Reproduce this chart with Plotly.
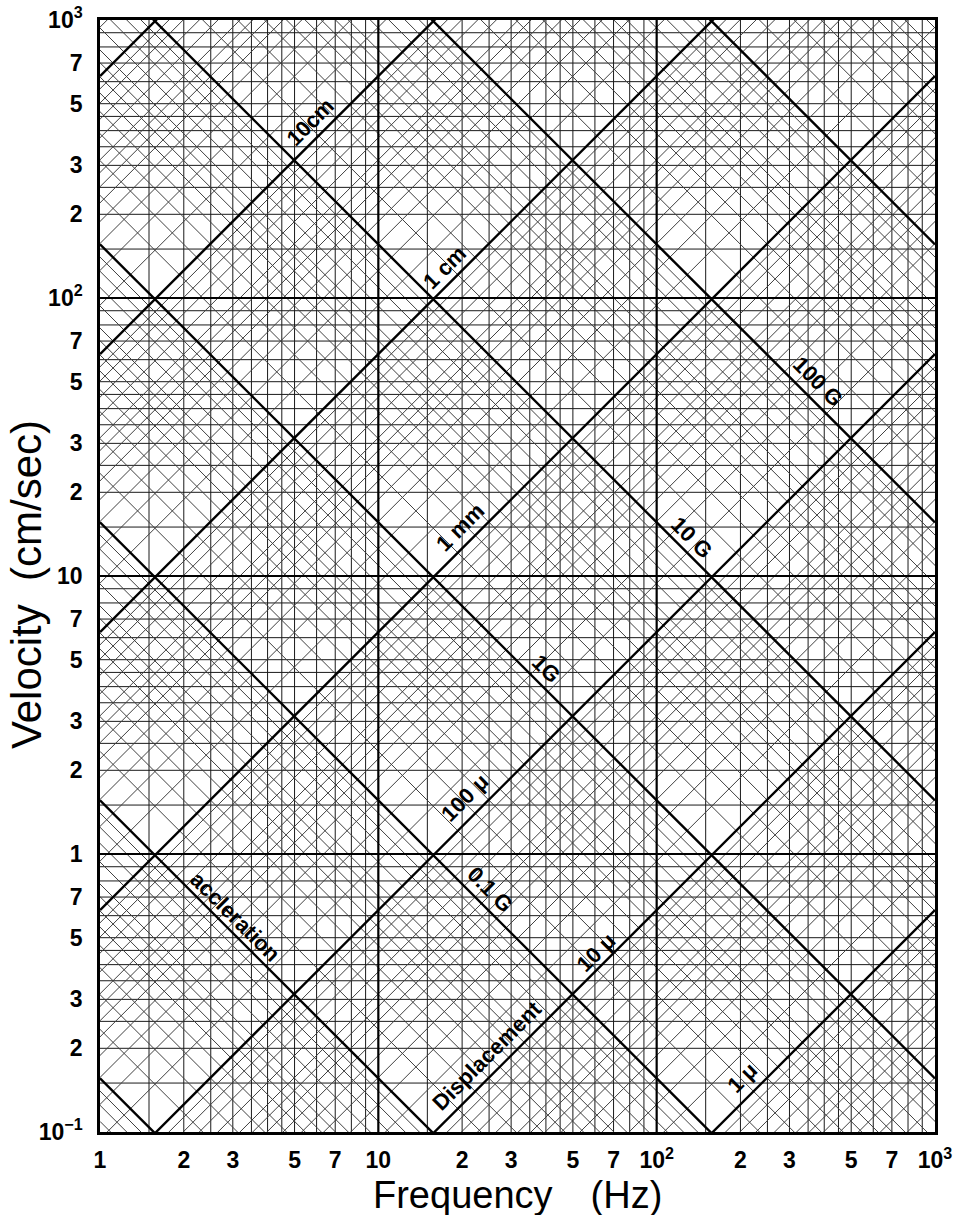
import numpy as np
import plotly.graph_objects as go

# Tripartite vibration nomograph: velocity vs frequency, with
# constant-displacement (slope +1) and constant-acceleration (slope -1) lines.

G_CMS2 = 980.0  # 1 G in cm/s^2

# grid mantissas used inside every decade
GRID_MANT = [1.5, 2, 2.5, 3, 3.5, 4, 4.5, 5, 6, 7, 8, 9]

FREQ_DECADES = [1, 10, 100]          # Hz
VEL_DECADES = [0.1, 1, 10, 100]      # cm/sec
DISP_DECADES = [1e-5, 1e-4, 1e-3, 1e-2, 1e-1, 1, 10, 100, 1000]   # cm
ACC_DECADES = [1e-4, 1e-3, 1e-2, 1e-1, 1, 10, 100, 1000, 1e4]     # G

X_TICKVALS = [1, 2, 3, 5, 7, 10, 20, 30, 50, 70, 100, 200, 300, 500, 700, 1000]
X_TICKTEXT = ["1", "2", "3", "5", "7", "10", "2", "3", "5", "7", "10<sup>2</sup>",
              "2", "3", "5", "7", "10<sup>3</sup>"]
Y_TICKVALS = [0.1, 0.2, 0.3, 0.5, 0.7, 1, 2, 3, 5, 7, 10, 20, 30, 50, 70,
              100, 200, 300, 500, 700, 1000]
Y_TICKTEXT = ["10<sup>−1</sup>", "2", "3", "5", "7", "1", "2", "3", "5", "7", "10",
              "2", "3", "5", "7", "10<sup>2</sup>", "2", "3", "5", "7", "10<sup>3</sup>"]

X_TITLE = "Frequency\u3000(Hz)"
Y_TITLE = "Velocity\u00a0\u00a0(cm/sec)"

# labels written along the thick diagonals
DISP_LABELS = ["10cm", "1 cm", "1 mm", "100 μ", "10 μ", "1 μ", "Displacement"]
DISP_LABEL_CM = [10, 1, 0.1, 0.01, 0.001, 0.0001, 0.001]
DISP_LABEL_HZ = [6.22, 18.8, 21.6, 22.8, 65.3, 225.7, 27.15]
DISP_LABEL_OFF = [16, 14, 16, 18, 13, 18, 17]

ACC_LABELS = ["accleration", "0.1 G", "1G", "10 G", "100 G"]
ACC_LABEL_G = [0.01, 0.1, 1, 10, 100]
ACC_LABEL_HZ = [2.83, 23.0, 36.6, 123, 344]
ACC_LABEL_OFF = [13, 15.5, 15.5, 14, 16.7]

F_MIN, F_MAX = 1, 1000
V_MIN, V_MAX = 0.1, 1000


def disp_velocity(f, d_cm):
    return 2 * np.pi * f * d_cm


def acc_velocity(f, a_g):
    return a_g * G_CMS2 / (2 * np.pi * f)


def seg_trace(xs, ys, color, width):
    return go.Scatter(x=xs, y=ys, mode="lines", hoverinfo="skip",
                      line=dict(color=color, width=width), showlegend=False)


fig = go.Figure()

# thin rectangular grid
vx, vy, hx, hy = [], [], [], []
for dec in FREQ_DECADES:
    for m in GRID_MANT:
        vx += [m * dec, m * dec, None]
        vy += [V_MIN, V_MAX, None]
for dec in VEL_DECADES:
    for m in GRID_MANT:
        hx += [F_MIN, F_MAX, None]
        hy += [m * dec, m * dec, None]
fig.add_trace(seg_trace(vx + hx, vy + hy, "#1a1a1a", 1))

# thin diagonals
dx, dy = [], []
f_ends = np.array([F_MIN, F_MAX], dtype=float)
for dec in DISP_DECADES:
    for m in GRID_MANT:
        dx += list(f_ends) + [None]
        dy += list(disp_velocity(f_ends, m * dec)) + [None]
for dec in ACC_DECADES:
    for m in GRID_MANT:
        dx += list(f_ends) + [None]
        dy += list(acc_velocity(f_ends, m * dec)) + [None]
fig.add_trace(seg_trace(dx, dy, "#404040", 1))

# thick decade grid lines
tx, ty = [], []
for dec in FREQ_DECADES[1:]:
    tx += [dec, dec, None]
    ty += [V_MIN, V_MAX, None]
for dec in VEL_DECADES[1:]:
    tx += [F_MIN, F_MAX, None]
    ty += [dec, dec, None]
fig.add_trace(seg_trace(tx, ty, "black", 2.2))

# thick decade diagonals
kx, ky = [], []
for d in DISP_DECADES:
    kx += list(f_ends) + [None]
    ky += list(disp_velocity(f_ends, d)) + [None]
for a in ACC_DECADES:
    kx += list(f_ends) + [None]
    ky += list(acc_velocity(f_ends, a)) + [None]
fig.add_trace(seg_trace(kx, ky, "black", 2.4))

FONT = "Liberation Sans, Arial, sans-serif"
label_font = dict(family=FONT, size=22, color="black", weight="bold")
s = np.sqrt(0.5)
for txt, d, f, p in zip(DISP_LABELS, DISP_LABEL_CM, DISP_LABEL_HZ, DISP_LABEL_OFF):
    fig.add_annotation(x=np.log10(f), y=np.log10(disp_velocity(f, d)), text=txt,
                       showarrow=False, textangle=-45, font=label_font,
                       xshift=-p * s, yshift=p * s)
for txt, a, f, p in zip(ACC_LABELS, ACC_LABEL_G, ACC_LABEL_HZ, ACC_LABEL_OFF):
    fig.add_annotation(x=np.log10(f), y=np.log10(acc_velocity(f, a)), text=txt,
                       showarrow=False, textangle=45, font=label_font,
                       xshift=p * s, yshift=p * s)

# axis titles
fig.add_annotation(xref="paper", yref="paper", x=0.5, y=0, yshift=-63,
                   xanchor="center", yanchor="middle", showarrow=False,
                   text=X_TITLE, font=dict(family=FONT, size=38, color="black"))
fig.add_annotation(xref="paper", yref="paper", x=0, y=0.5, xshift=-74, yshift=-9,
                   xanchor="center", yanchor="middle", showarrow=False, textangle=-90,
                   text=Y_TITLE, font=dict(family=FONT, size=42, color="black"))

tick_font = dict(family=FONT, size=23, color="black", weight="bold")

fig.update_xaxes(type="log", range=[0, 3], showgrid=False, zeroline=False,
                 showline=True, mirror=True, linecolor="black", linewidth=2.5,
                 ticks="", tickmode="array", tickvals=X_TICKVALS, ticktext=X_TICKTEXT,
                 tickfont=tick_font, ticklabelstandoff=6, automargin=False)
fig.update_yaxes(type="log", range=[-1, 3], showgrid=False, zeroline=False,
                 showline=True, mirror=True, linecolor="black", linewidth=2.5,
                 ticks="", tickmode="array", tickvals=Y_TICKVALS, ticktext=Y_TICKTEXT,
                 tickfont=tick_font, ticklabelstandoff=10, automargin=False)

fig.update_layout(width=953, height=1215, margin=dict(l=100, r=18, t=20, b=83),
                  plot_bgcolor="white", paper_bgcolor="white", showlegend=False)

fig.write_html("out.html")
